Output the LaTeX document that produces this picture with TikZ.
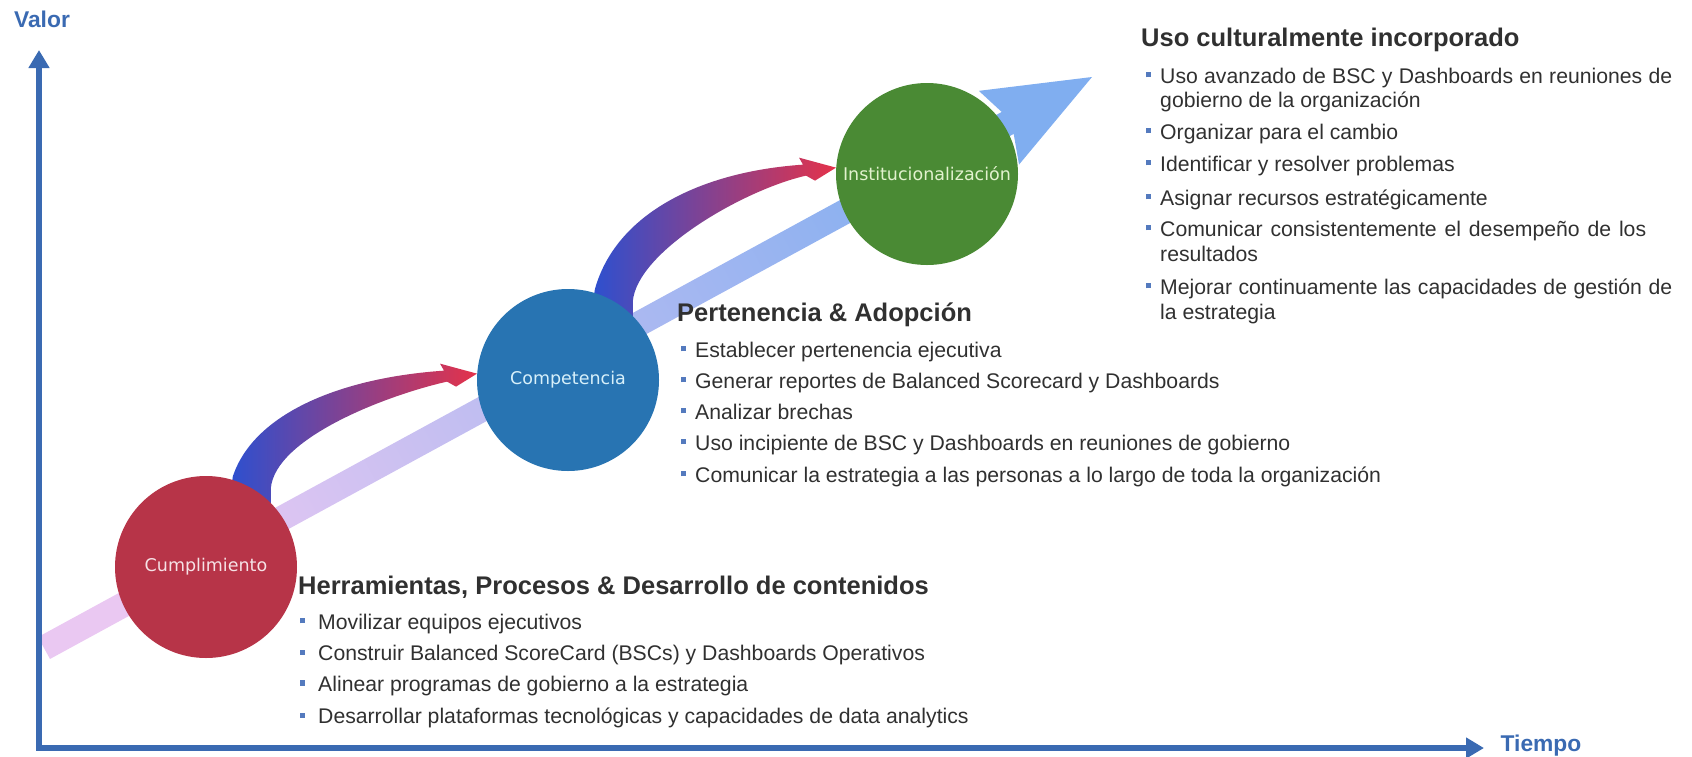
\documentclass[tikz,border=0pt]{standalone}
\usepackage{fontspec}
\setmainfont{Liberation Sans}
\newfontfamily\stagefont{DejaVu Sans}
\usetikzlibrary{arrows.meta,calc}
\pgfdeclarelayer{back}
\pgfsetlayers{back,main}
\definecolor{axisc}{RGB}{58,106,178}
\definecolor{txtc}{RGB}{48,48,48}
\definecolor{bulc}{RGB}{84,122,190}
\definecolor{stred}{RGB}{183,52,72}
\definecolor{stblue}{RGB}{40,116,178}
\definecolor{stgreen}{RGB}{74,138,52}
\definecolor{cumptxt}{RGB}{246,226,230}
\definecolor{comptxt}{RGB}{215,240,250}
\definecolor{insttxt}{RGB}{226,242,206}
\definecolor{swblue}{RGB}{44,80,208}
\definecolor{swpurple}{RGB}{118,48,160}
\definecolor{swred}{RGB}{228,50,74}
\definecolor{bandlo}{RGB}{234,200,242}
\definecolor{bandmid}{RGB}{196,190,244}
\definecolor{bandhi}{RGB}{128,174,240}

\newcommand{\bul}[1][14pt]{\makebox[#1][l]{\color{bulc}\rule[0.26em]{5pt}{5pt}}}
% curved arrow from the top of one stage to the left side of the next
\newcommand{\swoosh}[2]{%
  \coordinate (s) at (#1.62); \coordinate (e) at (#2.176);
  \shade[left color=swblue,middle color=swpurple,right color=swred]
    ($(s)+(-20,20)$) -- ($(s)+(-16,-10)$)
    .. controls ($(s)!0.65!(s|-e)+(5,0)$) and ($(e)+(-136,4)$) .. ($(e)+(-33,-3)$)
    -- ($(e)+(-37,-10)$) -- (e) -- ($(e)+(-21,13)$) -- ($(e)+(-30,8)$)
    .. controls ($(e)+(-92,22)$) and ($(s)+(26,-48)$) .. ($(s)+(22,2)$)
    -- ($(s)+(22,25)$) -- cycle;}

\tikzset{
  axis/.style={line width=6pt,draw=axisc,line join=miter},
  axlab/.style={inner sep=0pt,text=axisc,font=\fontsize{22.8}{26}\selectfont\bfseries},
  stage/.style={circle,minimum size=182pt,inner sep=0pt,font=\stagefont\fontsize{17.5}{20}\selectfont},
  hd/.style={anchor=base west,inner sep=0pt,text=txtc,font=\fontsize{25.5}{30}\selectfont\bfseries},
  itm/.style={anchor=base west,inner sep=0pt,text=txtc,font=\fontsize{21.2}{24.5}\selectfont},
}

\begin{document}
\begin{tikzpicture}[x=1pt,y=-1pt]
  \useasboundingbox (0,0) rectangle (1692,756);
  % axes
  \coordinate (orig) at (39,748);
  \coordinate (ytop) at (39,50);
  \coordinate (xtip) at (1484,748);
  \draw[axis,{Triangle[length=18pt,width=20pt]}-{Triangle[length=18pt,width=20pt]}] (ytop) -- (orig) -- (xtip);
  \node[axlab] (ylab) at (42,19) {Valor};
  \node[axlab] (xlab) at (1541,746) {Tiempo};

  % stages
  \node[stage,fill=stred,text=cumptxt] (cump) at (206,567) {Cumplimiento};
  \node[stage,fill=stblue,text=comptxt] (comp) at (568,380) {Competencia};
  \node[stage,fill=stgreen,text=insttxt] (inst) at (927,174) {Institucionalización};

  % light band and curved arrows, behind the stages
  \begin{pgfonlayer}{back}
    \coordinate (bandA) at (44,648);
    \coordinate (bandB) at (1092,77);
    \coordinate (hs) at ($(bandB)!96pt!(bandA)$);
    \coordinate (hb) at ($(bandB)!106pt!(bandA)$);
    \shade[left color=bandlo,middle color=bandmid,right color=bandhi,shading angle=118.5]
      ($(bandA)!12.5pt!90:(bandB)$) -- ($(hs)!12.5pt!-90:(bandA)$) -- ($(hb)!42pt!-90:(bandA)$)
      -- (bandB) -- ($(hb)!42pt!90:(bandA)$) -- ($(hs)!12.5pt!90:(bandA)$)
      -- ($(bandA)!12.5pt!-90:(bandB)$) -- cycle;
    \swoosh{cump}{comp}
    \swoosh{comp}{inst}
  \end{pgfonlayer}

  % (1) tools block
  \node[hd] (toolshd) at (298,594) {Herramientas, Procesos \& Desarrollo de contenidos};
  \node[itm] (tools1) at (300,629) {\bul[18pt]Movilizar equipos ejecutivos};
  \node[itm] (tools2) at (300,660) {\bul[18pt]Construir Balanced ScoreCard (BSCs) y Dashboards Operativos};
  \node[itm] (tools3) at (300,691) {\bul[18pt]Alinear programas de gobierno a la estrategia};
  \node[itm] (tools4) at (300,723) {\bul[18pt]Desarrollar plataformas tecnológicas y capacidades de data analytics};

  % (2) ownership block
  \node[hd] (ownhd) at (677,321) {Pertenencia \& Adopción};
  \node[itm] (own1) at (681,357) {\bul Establecer pertenencia ejecutiva};
  \node[itm] (own2) at (681,388) {\bul Generar reportes de Balanced Scorecard y Dashboards};
  \node[itm] (own3) at (681,419) {\bul Analizar brechas};
  \node[itm] (own4) at (681,450) {\bul Uso incipiente de BSC y Dashboards en reuniones de gobierno};
  \node[itm] (own5) at (681,482) {\bul Comunicar la estrategia a las personas a lo largo de toda la organización};

  % (3) culture block
  \node[hd] (culthd) at (1141,46) {Uso culturalmente incorporado};
  \node[itm] (cult1) at (1146,83) {\bul\makebox[512pt][s]{Uso avanzado de BSC y Dashboards en reuniones de}};
  \node[itm] (cult1b) at (1160,107) {gobierno de la organización};
  \node[itm] (cult2) at (1146,139) {\bul Organizar para el cambio};
  \node[itm] (cult3) at (1146,171) {\bul Identificar y resolver problemas};
  \node[itm] (cult4) at (1146,205) {\bul Asignar recursos estratégicamente};
  \node[itm] (cult5) at (1146,236) {\bul\makebox[486pt][s]{Comunicar consistentemente el desempeño de los}};
  \node[itm] (cult5b) at (1160,261) {resultados};
  \node[itm] (cult6) at (1146,294) {\bul\makebox[512pt][s]{Mejorar continuamente las capacidades de gestión de}};
  \node[itm] (cult6b) at (1160,319) {la estrategia};
\end{tikzpicture}
\end{document}
